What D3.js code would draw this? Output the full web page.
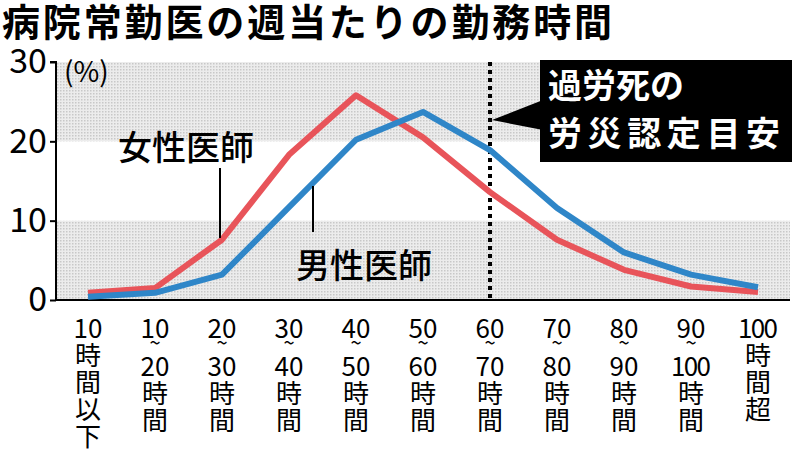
<!DOCTYPE html>
<html>
<head>
<meta charset="utf-8">
<style>
  body { margin: 0; background: #fff; }
  text { font-family: "Noto Sans CJK JP", sans-serif; }
</style>
</head>
<body>
<svg id="chart" width="798" height="456"></svg>
<script src="https://cdn.jsdelivr.net/npm/d3@7"></script>
<script>
// categories (each label is a vertical stack of lines)
var categories = [
  ["10", "時", "間", "以", "下"],
  ["10", "~", "20", "時", "間"],
  ["20", "~", "30", "時", "間"],
  ["30", "~", "40", "時", "間"],
  ["40", "~", "50", "時", "間"],
  ["50", "~", "60", "時", "間"],
  ["60", "~", "70", "時", "間"],
  ["70", "~", "80", "時", "間"],
  ["80", "~", "90", "時", "間"],
  ["90", "~", "100", "時", "間"],
  ["100", "時", "間", "超"]
];
var female = [0.9, 1.5, 7.6, 18.3, 25.8, 20.5, 13.6, 7.6, 3.8, 1.7, 1.0];
var male   = [0.4, 0.9, 3.2, 11.7, 20.2, 23.7, 18.9, 11.6, 6.0, 3.2, 1.6];
var yTicks = [0, 10, 20, 30];

var svg = d3.select('#chart');

var defs = svg.append('defs');
var pat = defs.append('pattern').attr('id', 'dots')
  .attr('width', 3).attr('height', 3).attr('patternUnits', 'userSpaceOnUse');
pat.append('rect').attr('width', 3).attr('height', 3).attr('fill', '#ececec');
pat.append('rect').attr('width', 1.5).attr('height', 1.5).attr('fill', '#c8c8c8');

var x = d3.scalePoint().domain(d3.range(categories.length)).range([88, 758]);
var y = d3.scaleLinear().domain([0, 30]).range([300, 62]);
var right = 790;

// title
svg.append('text').attr('x', 2).attr('y', 36)
  .attr('font-size', 38).attr('font-weight', 'bold').attr('textLength', 610)
  .text('病院常勤医の週当たりの勤務時間');

// shaded bands
[[0, 10], [20, 30]].forEach(function (b) {
  svg.append('rect').attr('x', 56).attr('width', right - 56)
    .attr('y', y(b[1])).attr('height', y(b[0]) - y(b[1]))
    .attr('fill', 'url(#dots)');
});

// y axis
var yAxis = svg.append('g').attr('transform', 'translate(56,0)')
  .call(d3.axisLeft(y).tickValues(yTicks).tickSize(6).tickPadding(3));
yAxis.select('.domain').attr('stroke', '#000').attr('stroke-width', 2).attr('d', 'M-6,' + y(30) + 'H0V' + y(0));
yAxis.selectAll('.tick line').attr('stroke-width', 2);
yAxis.selectAll('.tick text').attr('font-size', 34).attr('font-family', 'Liberation Sans Narrow, Roboto, sans-serif').attr('fill', '#000');
svg.append('text').attr('x', 64).attr('y', 82).attr('font-size', 28).text('(%)');

// x baseline
svg.append('line').attr('x1', 56).attr('x2', right).attr('y1', y(0)).attr('y2', y(0))
  .attr('stroke', '#000').attr('stroke-width', 2);

// threshold dotted line at 60 hours
svg.append('line').attr('x1', x(6)).attr('x2', x(6)).attr('y1', y(30)).attr('y2', y(0))
  .attr('stroke', '#000').attr('stroke-width', 4).attr('stroke-dasharray', '4,4');

// lines
var line = d3.line().x(function (d, i) { return x(i); }).y(function (d) { return y(d); });
svg.append('path').datum(female).attr('d', line).attr('fill', 'none')
  .attr('stroke', '#e8545a').attr('stroke-width', 6).attr('stroke-linejoin', 'round');
svg.append('path').datum(male).attr('d', line).attr('fill', 'none')
  .attr('stroke', '#2f86c8').attr('stroke-width', 6).attr('stroke-linejoin', 'round');

// callout
svg.append('path').attr('d', 'M' + (x(6) + 2) + ',120L543,100L543,130Z').attr('fill', '#000');
svg.append('rect').attr('x', 540).attr('y', 60).attr('width', 252).attr('height', 102).attr('fill', '#000');
svg.append('text').attr('x', 548).attr('y', 98).attr('font-size', 34).attr('font-weight', 'bold')
  .attr('fill', '#fff').text('過労死の');
svg.append('text').attr('x', 548).attr('y', 146).attr('font-size', 34).attr('font-weight', 'bold')
  .attr('fill', '#fff').attr('textLength', 232).text('労災認定目安');

// series labels
svg.append('text').attr('x', 118).attr('y', 160).attr('font-size', 34).attr('font-weight', 500).text('女性医師');
svg.append('line').attr('x1', 220).attr('x2', 220).attr('y1', 168).attr('y2', 238).attr('stroke', '#000').attr('stroke-width', 2);
svg.append('text').attr('x', 296).attr('y', 278).attr('font-size', 34).attr('font-weight', 500).text('男性医師');
svg.append('line').attr('x1', 313).attr('x2', 313).attr('y1', 186).attr('y2', 232).attr('stroke', '#000').attr('stroke-width', 2);

// x labels
var lab = svg.append('g');
categories.forEach(function (c, i) {
  var yy = 338;
  c.forEach(function (s, j) {
    var tilde = s === '~';
    if (j > 0) yy += tilde ? 16 : (c[j - 1] === '~' ? 22 : 27);
    lab.append('text').attr('x', x(i)).attr('y', yy)
      .attr('text-anchor', 'middle').attr('font-size', tilde ? 20 : 26)
      .attr('font-family', /\d/.test(s) ? 'Liberation Sans Narrow, Roboto, sans-serif' : null)
      .attr('dy', tilde ? -4 : 0)
      .attr('textLength', s === '100' ? 40 : null)
      .text(s);
  });
});
</script>
</body>
</html>
